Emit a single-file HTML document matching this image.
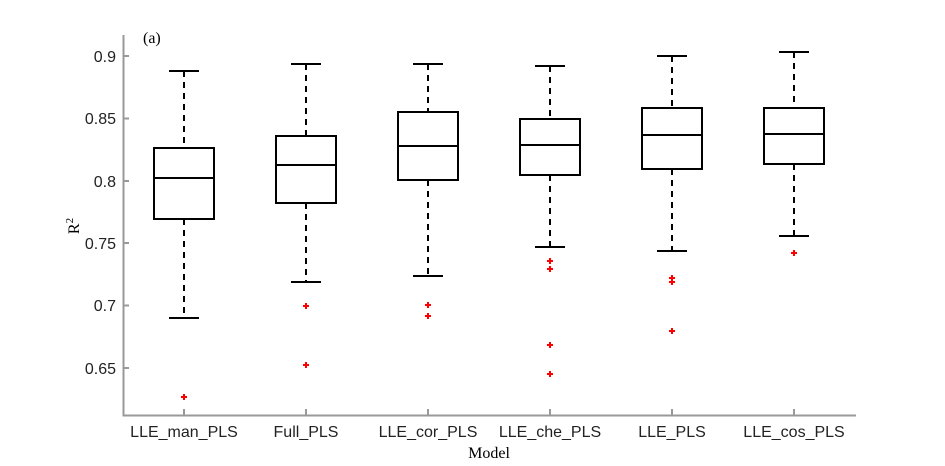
<!DOCTYPE html>
<html><head><style>body{margin:0;background:#fff}svg{display:block}</style></head><body>
<svg width="945" height="466" xmlns="http://www.w3.org/2000/svg" font-family="Liberation Sans, sans-serif">
<g stroke="#999" stroke-width="2" fill="none">
<path d="M123.5 35V415.5H856"/>
<path d="M123 56h6M123 118.5h6M123 181h6M123 243h6M123 305.5h6M123 368h6"/>
<path d="M184 415v-6M306 415v-6M428 415v-6M550 415v-6M672 415v-6M794 415v-6"/>
</g>
<g font-size="16" fill="#222" text-anchor="end">
<text x="116" y="62">0.9</text><text x="116" y="124">0.85</text><text x="116" y="187">0.8</text>
<text x="116" y="249">0.75</text><text x="116" y="311">0.7</text><text x="116" y="374">0.65</text>
</g>
<g font-size="16" fill="#222" text-anchor="middle">
<text x="184" y="437">LLE_man_PLS</text><text x="306" y="437">Full_PLS</text><text x="428" y="437">LLE_cor_PLS</text>
<text x="550" y="437">LLE_che_PLS</text><text x="672" y="437">LLE_PLS</text><text x="794" y="437">LLE_cos_PLS</text>
</g>
<text x="489" y="458" font-family="Liberation Serif, serif" font-size="16" text-anchor="middle">Model</text>
<text transform="translate(79 226) rotate(-90)" font-family="Liberation Serif, serif" font-size="16" text-anchor="middle">R<tspan dy="-6" font-size="11">2</tspan></text>
<text x="143" y="43" font-family="Liberation Serif, serif" font-size="16">(a)</text>
<g stroke="#000" stroke-width="2" fill="none">
<path d="M154 148h60v71h-60zM154 178h60M169 71h30M169 318h30"/>
<path d="M276 136h60v67h-60zM276 165h60M291 64h30M291 282h30"/>
<path d="M398 112h60v68h-60zM398 146h60M413 64h30M413 276h30"/>
<path d="M520 119h60v56h-60zM520 145h60M535 66h30M535 247h30"/>
<path d="M642 108h60v61h-60zM642 135h60M657 56h30M657 251h30"/>
<path d="M764 108h60v56h-60zM764 134h60M779 52h30M779 236h30"/>
</g>
<g stroke="#000" stroke-width="2" stroke-dasharray="6 5" fill="none">
<path d="M184 71V148M184 219V318M306 64V136M306 203V282M428 64V112M428 180V276M550 66V119M550 175V247M672 56V108M672 169V251M794 52V108M794 164V236"/>
</g>
<g stroke="red" stroke-width="2" fill="none">
<path d="M181 397h6M184 394v6
M303 306h6M306 303v6M303 365h6M306 362v6
M425 305h6M428 302v6M425 316h6M428 313v6
M547 261h6M550 258v6M547 269h6M550 266v6M547 345h6M550 342v6M547 374h6M550 371v6
M669 278h6M672 275v6M669 282h6M672 279v6M669 331h6M672 328v6
M791 253h6M794 250v6"/>
</g>
</svg>
</body></html>
